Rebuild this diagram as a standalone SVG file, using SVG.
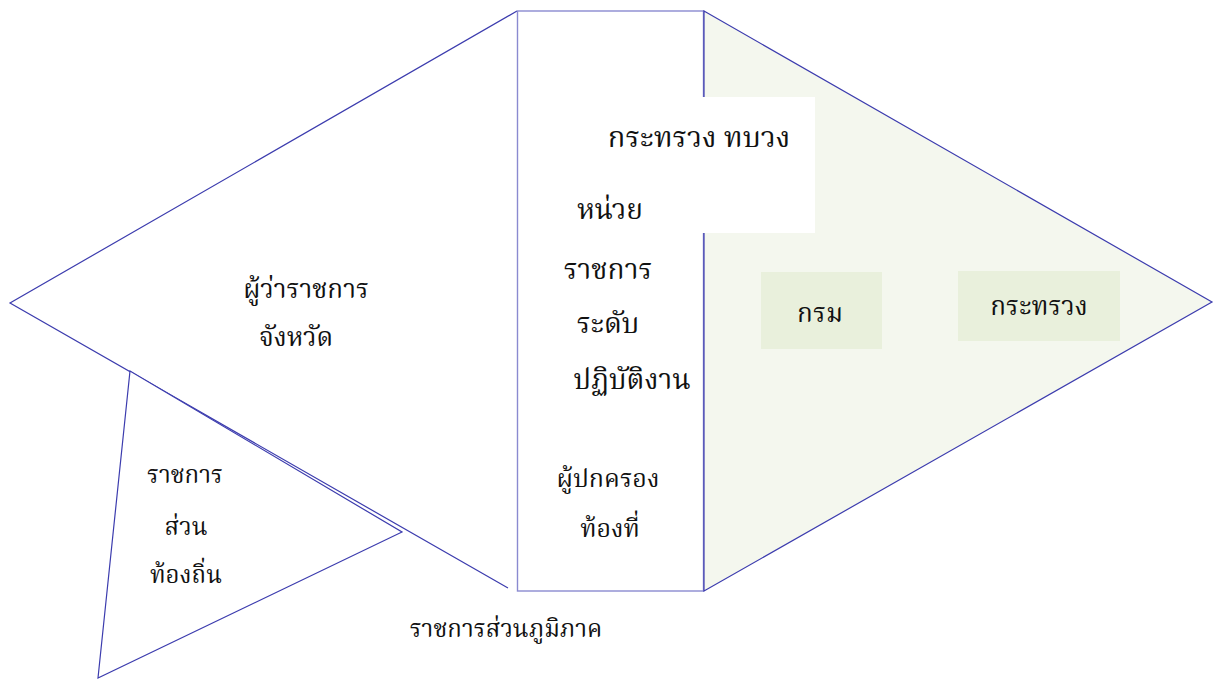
<svg xmlns="http://www.w3.org/2000/svg" width="1223" height="680" viewBox="0 0 1223 680">
<style>
.ln{stroke:#3c3cae;stroke-width:1.2;}
.rl{stroke:#8a8ad0;stroke-width:1.4;}
.t{font-family:"Liberation Serif","Noto Serif Thai","Noto Sans Thai","DejaVu Serif",serif;fill:#111;text-anchor:middle;}
.f28{font-size:28px;}
.f26{font-size:26px;}
.f25{font-size:25px;}
.f24{font-size:24px;}
.box{fill:#e9f0dc;}
</style>
<rect width="1223" height="680" fill="#ffffff"/>
<g id="regional">
<path class="ln" d="M517,11 L10,303 L508,588" fill="#ffffff"/>
<text class="t f26" x="306" y="298">ผู้ว่าราชการ</text>
<text class="t f26" x="296" y="346">จังหวัด</text>
</g>
<g id="field-units">
<rect class="rl" x="517.5" y="11" width="186" height="580" fill="#ffffff"/>
</g>
<g id="central">
<polygon class="ln" points="704,11 1212,302 704,591" fill="#f4f7ee"/>
</g>
<g id="ministry-label">
<rect x="600" y="97" width="215" height="136" fill="#ffffff"/>
<text class="t" style="font-size:29px" x="699" y="147">กระทรวง ทบวง</text>
</g>
<g id="field-units-text">
<text class="t f28" x="610" y="219">หน่วย</text>
<text class="t f28" x="608" y="279">ราชการ</text>
<text class="t f28" x="608" y="333">ระดับ</text>
<text class="t f28" x="632" y="389">ปฏิบัติงาน</text>
<text class="t f25" x="608" y="487">ผู้ปกครอง</text>
<text class="t f25" x="610" y="537">ท้องที่</text>
</g>
<g id="department">
<rect class="box" x="761" y="272" width="121" height="77"/>
<text class="t f26" x="820" y="322">กรม</text>
</g>
<g id="ministry">
<rect class="box" x="958" y="271" width="162" height="70"/>
<text class="t f26" x="1039" y="315">กระทรวง</text>
</g>
<g id="local">
<polygon class="ln" points="130,371 402,532 98,678" fill="#ffffff"/>
<text class="t f24" x="185" y="483">ราชการ</text>
<text class="t f24" x="186" y="535">ส่วน</text>
<text class="t f24" x="186" y="583">ท้องถิ่น</text>
</g>
<g id="connectors"></g>
<text class="t f24" x="506" y="637">ราชการส่วนภูมิภาค</text>
</svg>
